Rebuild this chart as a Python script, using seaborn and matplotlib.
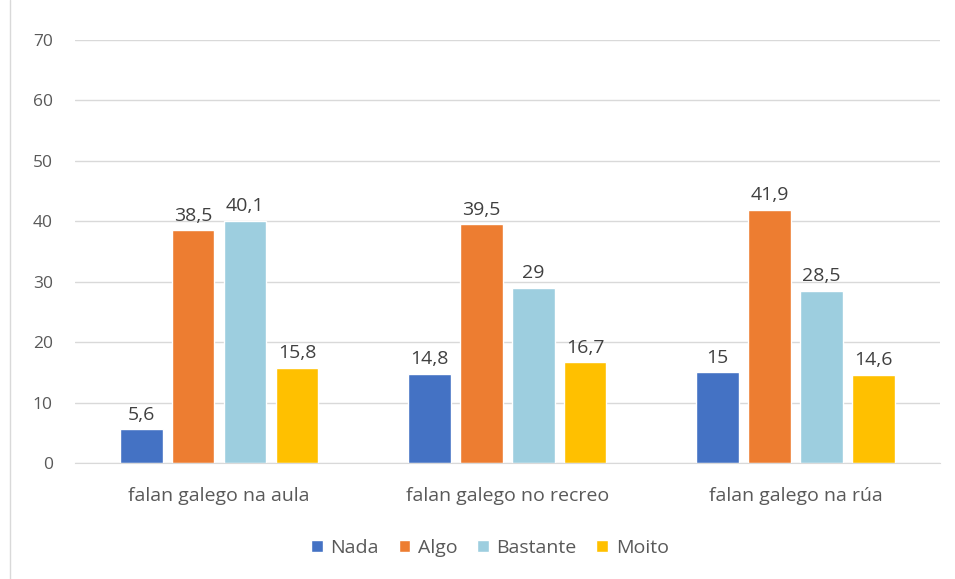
import pandas as pd
import matplotlib
matplotlib.use("Agg")
import matplotlib.pyplot as plt
import seaborn as sns
from matplotlib.lines import Line2D

# data
categories = ["falan galego na aula", "falan galego no recreo", "falan galego na rúa"]
levels = ["Nada", "Algo", "Bastante", "Moito"]
nada = [5.6, 14.8, 15]
algo = [38.5, 39.5, 41.9]
bastante = [40.1, 29, 28.5]
moito = [15.8, 16.7, 14.6]
labels = {
    "Nada": ["5,6", "14,8", "15"],
    "Algo": ["38,5", "39,5", "41,9"],
    "Bastante": ["40,1", "29", "28,5"],
    "Moito": ["15,8", "16,7", "14,6"],
}
colors = ["#4472C4", "#ED7D31", "#9DCEDF", "#FFC000"]

rows = []
for lev, vals in zip(levels, [nada, algo, bastante, moito]):
    for cat, v in zip(categories, vals):
        rows.append({"cat": cat, "level": lev, "value": v})
df = pd.DataFrame(rows)

sns.set_style("white")
plt.rcParams["font.family"] = ["Open Sans", "DejaVu Sans"]

fig = plt.figure(figsize=(9.55, 5.79), dpi=100)
ax = fig.add_axes([0.0785, 0.2003, 0.9055, 0.7307])

sns.barplot(data=df, x="cat", y="value", hue="level", order=categories,
            hue_order=levels, palette=colors, width=0.72, gap=0.18,
            saturation=1, ax=ax, legend=True)

# value labels
for container, lev in zip(ax.containers, levels):
    ax.bar_label(container, labels=labels[lev], padding=4, fontsize=14,
                 color="#404040")

ax.set_ylim(0, 70)
ax.set_yticks(range(0, 71, 10))
ax.set_xlim(-0.5, 2.5)
ax.yaxis.grid(True, color="#D9D9D9", linewidth=1)
ax.set_axisbelow(True)
for s in ["top", "right", "left"]:
    ax.spines[s].set_visible(False)
ax.spines["bottom"].set_color("#D9D9D9")
ax.tick_params(axis="y", length=0, labelsize=12.5, labelcolor="#595959", pad=16)
ax.tick_params(axis="x", length=0, labelsize=14, labelcolor="#595959", pad=17)
ax.set_xlabel("")
ax.set_ylabel("")

handles, lbls = ax.get_legend_handles_labels()
ax.legend(handles, lbls, loc="center", bbox_to_anchor=(0.513, 0.0535),
          bbox_transform=fig.transFigure, ncol=4, frameon=False,
          fontsize=14, handlelength=0.6, handleheight=0.6,
          handletextpad=0.4, columnspacing=1.0, labelcolor="#595959")

# chart border on the left
fig.add_artist(Line2D([10 / 955, 10 / 955], [0, 1], transform=fig.transFigure,
                      color="#D9D9D9", linewidth=1))

fig.savefig("out.png", dpi=100)
